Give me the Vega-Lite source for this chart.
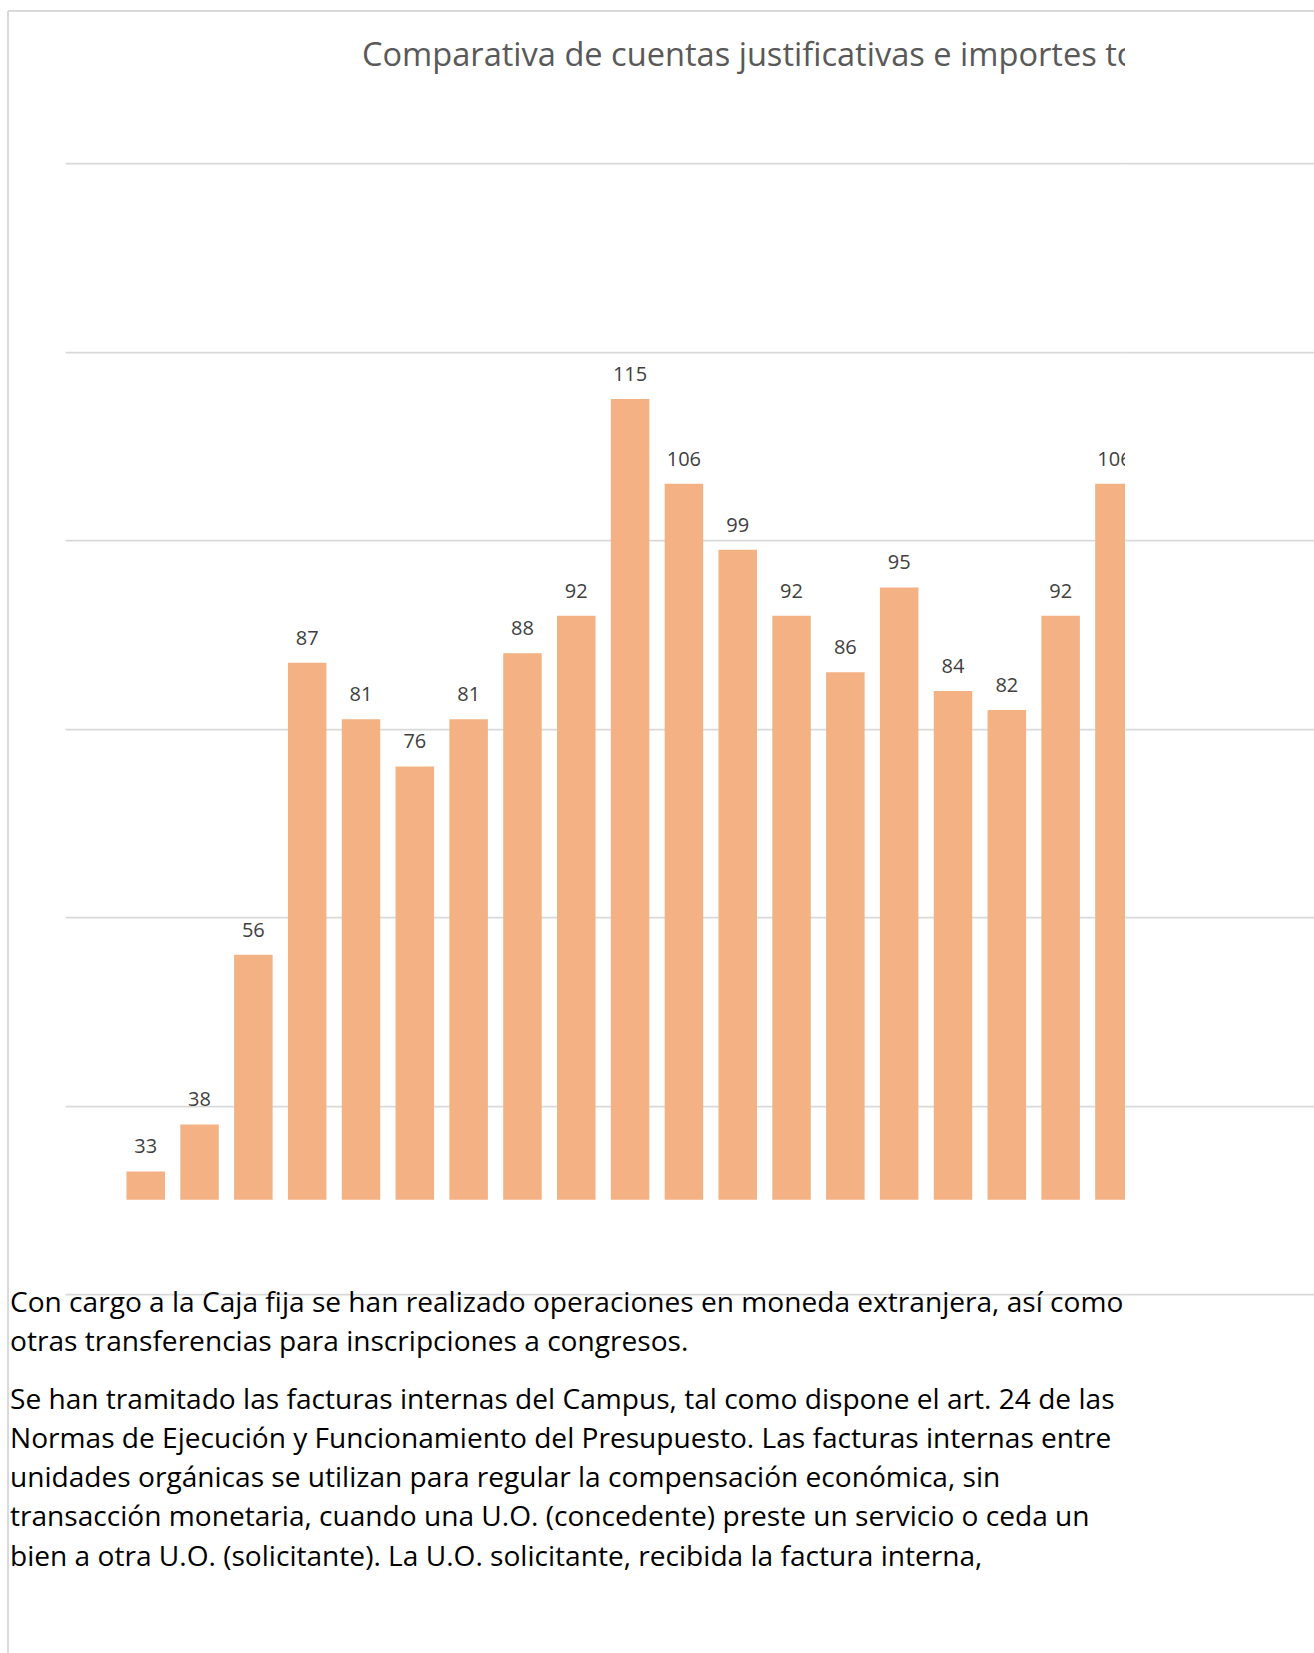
{
  "$schema": "https://vega.github.io/schema/vega-lite/v6.json",
  "autosize": {"type": "pad"},
  "bounds": "flush",
  "padding": {"left": 7, "top": 10, "right": 0, "bottom": 0},
  "spacing": 0,
  "background": "white",
  "config": {"view": {"stroke": null}, "font": "Open Sans"},
  "datasets": {
    "cuentas": [
      {"n": 1, "valor": 33}, {"n": 2, "valor": 38}, {"n": 3, "valor": 56}, {"n": 4, "valor": 87},
      {"n": 5, "valor": 81}, {"n": 6, "valor": 76}, {"n": 7, "valor": 81}, {"n": 8, "valor": 88},
      {"n": 9, "valor": 92}, {"n": 10, "valor": 115}, {"n": 11, "valor": 106}, {"n": 12, "valor": 99},
      {"n": 13, "valor": 92}, {"n": 14, "valor": 86}, {"n": 15, "valor": 95}, {"n": 16, "valor": 84},
      {"n": 17, "valor": 82}, {"n": 18, "valor": 92}, {"n": 19, "valor": 106}
    ]
  },
  "hconcat": [
    {
      "width": 1060,
      "height": 1643,
      "layer": [
        {"data": {"name": "cuentas"},
          "mark": {"type": "bar", "width": 38.5, "color": "#F4B183", "clip": true},
          "encoding": {
            "x": {"field": "n", "type": "quantitative", "scale": {"domain": [-0.5, 19.196], "nice": false, "zero": false, "padding": 0}, "axis": null},
            "y": {"field": "valor", "type": "quantitative", "scale": {"domain": [-18.11, 156.29], "nice": false, "zero": false, "padding": 0},
              "axis": {"grid": true, "values": [20, 40, 60, 80, 100, 120, 140], "labels": false, "ticks": false, "domain": false, "title": null, "gridColor": "#d9d9d9", "gridWidth": 1.75}},
            "y2": {"datum": 30}
          }},
        {"data": {"name": "cuentas"},
          "mark": {"type": "text", "dy": -18, "baseline": "alphabetic", "align": "center", "fontSize": 20, "color": "#404040", "clip": true},
          "encoding": {
            "x": {"field": "n", "type": "quantitative", "scale": {"domain": [-0.5, 19.196], "nice": false, "zero": false, "padding": 0}, "axis": null},
            "y": {"field": "valor", "type": "quantitative", "scale": {"domain": [-18.11, 156.29], "nice": false, "zero": false, "padding": 0}},
            "text": {"field": "valor", "type": "quantitative"}
          }},
        {"data": {"values": [{}]},
          "mark": {"type": "text", "align": "left", "baseline": "alphabetic", "fontSize": 32.6, "color": "#595959", "clip": true},
          "encoding": {"x": {"datum": 5.0186, "type": "quantitative"}, "y": {"datum": 150.35, "type": "quantitative"}, "text": {"value": "Comparativa de cuentas justificativas e importes to"}}},
        {"data": {"values": [{}]},
          "mark": {"type": "text", "align": "left", "baseline": "alphabetic", "fontSize": 28.1, "lineHeight": 39.2, "color": "#000000"},
          "encoding": {"x": {"datum": -1.522, "type": "quantitative"}, "y": {"datum": 18.12, "type": "quantitative"},
            "text": {"value": ["Con cargo a la Caja fija se han realizado operaciones en moneda extranjera, así como", "otras transferencias para inscripciones a congresos."]}}},
        {"data": {"values": [{}]},
          "mark": {"type": "text", "align": "left", "baseline": "alphabetic", "fontSize": 28.1, "lineHeight": 39.2, "color": "#000000"},
          "encoding": {"x": {"datum": -1.522, "type": "quantitative"}, "y": {"datum": 7.8, "type": "quantitative"},
            "text": {"value": ["Se han tramitado las facturas internas del Campus, tal como dispone el art. 24 de las", "Normas de Ejecución y Funcionamiento del Presupuesto. Las facturas internas entre", "unidades orgánicas se utilizan para regular la compensación económica, sin", "transacción monetaria, cuando una U.O. (concedente) preste un servicio o ceda un", "bien a otra U.O. (solicitante). La U.O. solicitante, recibida la factura interna,"]}}},
        {"data": {"values": [{}]},
          "mark": {"type": "rule", "color": "#d9d9d9", "strokeWidth": 2},
          "encoding": {"x": {"datum": -1.5591, "type": "quantitative"}, "y": {"datum": 156.18, "type": "quantitative"}, "y2": {"datum": -18.11}}},
        {"data": {"values": [{}]},
          "mark": {"type": "rule", "color": "#d9d9d9", "strokeWidth": 2},
          "encoding": {"x": {"datum": -1.5591, "type": "quantitative"}, "x2": {"datum": 19.196}, "y": {"datum": 156.18, "type": "quantitative"}}}
      ]
    },
    {
      "width": 189,
      "height": 1643,
      "data": {"values": [{}]},
      "mark": {"type": "rule", "color": "#d9d9d9", "strokeWidth": 2},
      "encoding": {
        "y": {"datum": 156.18, "type": "quantitative", "scale": {"domain": [-18.11, 156.29], "nice": false, "zero": false, "padding": 0},
          "axis": {"grid": true, "values": [20, 40, 60, 80, 100, 120, 140], "labels": false, "ticks": false, "domain": false, "title": null, "gridColor": "#d9d9d9", "gridWidth": 1.75}}
      }
    }
  ]
}
